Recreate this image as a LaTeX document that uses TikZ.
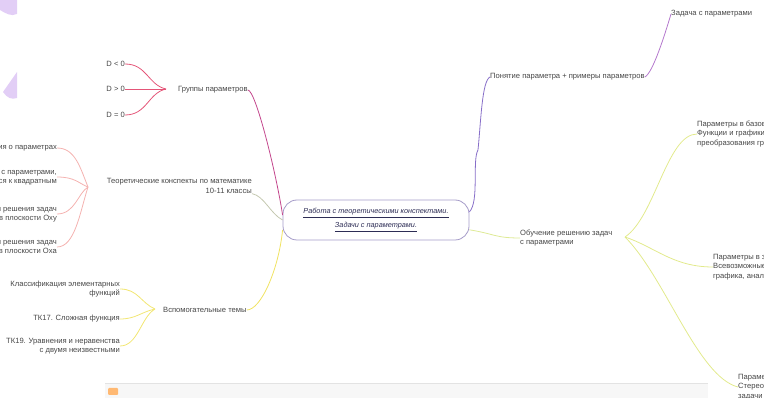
\documentclass[tikz,border=0pt]{standalone}
\usepackage{fontspec}
\setmainfont{Liberation Sans}

\definecolor{textcol}{RGB}{70,70,70}
\definecolor{centertext}{RGB}{45,45,85}
\definecolor{boxcol}{RGB}{165,155,200}
\definecolor{grpcol}{RGB}{195,70,140}
\definecolor{grpsub}{RGB}{228,85,120}
\definecolor{theocol}{RGB}{196,200,176}
\definecolor{theosub}{RGB}{244,178,176}
\definecolor{auxcol}{RGB}{240,226,95}
\definecolor{auxsub}{RGB}{242,230,115}
\definecolor{concol}{RGB}{135,110,200}
\definecolor{consub}{RGB}{180,120,205}
\definecolor{lrncol}{RGB}{222,234,150}
\definecolor{lrnsub}{RGB}{226,234,140}
\definecolor{blobcol}{RGB}{226,206,246}

\tikzset{
  topic/.style={inner sep=0pt, font=\fontsize{7.6}{9.6}\selectfont, text=textcol},
  centerbox/.style={draw=boxcol, line width=0.8pt, rounded corners=14pt,
    minimum width=186pt, minimum height=40pt, align=center,
    font=\itshape\fontsize{7.3}{14}\selectfont, text=centertext},
  branch/.style={line width=0.8pt},
}

\begin{document}
\begin{tikzpicture}[x=1pt,y=-1pt]
\useasboundingbox (0,0) rectangle (764,398);
\clip (0,0) rectangle (764,398);

% side panel remains
\fill[blobcol] (0,0) -- (17,0) -- (17,14) .. controls (11,17) and (5,13) .. (0,10) -- cycle;
\fill[blobcol] (3,92) -- (17,72) -- (17,98) .. controls (12,100) and (7,98) .. (3,92) -- cycle;

% bottom bar
\fill[gray!6] (105,383) rectangle (708,398);
\draw[gray!22] (105,383) -- (708,383);
\fill[orange!55, rounded corners=1pt] (108,388) rectangle (118,395);

% centre
\node[centerbox] (center) at (376,220)
  {\underline{Работа с теоретическими конспектами.}\\\underline{Задачи с параметрами.}};

% groups of parameters
\node[topic, anchor=west] (grp) at (178,90) {Группы параметров};
\coordinate (grpj) at (166,89);
\node[topic, anchor=east] (d1) at (125,64) {D < 0};
\node[topic, anchor=east] (d2) at (125,89) {D > 0};
\node[topic, anchor=east] (d3) at (125,115) {D = 0};
\draw[branch, grpsub] (d1.east) .. controls +(22,0) and +(-18,-4) .. (grpj);
\draw[branch, grpsub] (d2.east) -- (grpj);
\draw[branch, grpsub] (d3.east) .. controls +(22,0) and +(-18,4) .. (grpj);
\draw[branch, grpcol] (grp.east) .. controls +(8,0) and +(-6,-40) .. (center.177);

% theory notes
\node[topic, anchor=east, align=right] (theo) at (252,186)
  {Теоретические конспекты по математике\\10-11 классы};
\coordinate (theoj) at (88,187);
\node[topic, anchor=east, align=right] (t1) at (57,148) {Общие сведения о параметрах};
\node[topic, anchor=east, align=right] (t2) at (57,177) {Уравнения с параметрами,\\сводящиеся к квадратным};
\node[topic, anchor=east, align=right] (t3) at (57,214) {Графические приёмы решения задач\\с параметрами в плоскости Oxy};
\node[topic, anchor=east, align=right] (t4) at (57,247) {Графические приёмы решения задач\\с параметрами в плоскости Oxa};
\draw[branch, theosub] (t1.east) .. controls +(18,0) and +(-8,-20) .. (theoj);
\draw[branch, theosub] (t2.east) .. controls +(18,0) and +(-10,-4) .. (theoj);
\draw[branch, theosub] (t3.east) .. controls +(18,0) and +(-10,6) .. (theoj);
\draw[branch, theosub] (t4.east) .. controls +(18,0) and +(-8,25) .. (theoj);
\draw[branch, theocol] (theo.south east) .. controls +(12,2) and +(-12,-6) .. (center.west);

% auxiliary topics
\node[topic, anchor=west] (aux) at (163,310) {Вспомогательные темы};
\coordinate (auxj) at (155,309);
\node[topic, anchor=east, align=right] (a1) at (120,289) {Классификация элементарных\\функций};
\node[topic, anchor=east] (a2) at (120,319) {ТК17. Сложная функция};
\node[topic, anchor=east, align=right] (a3) at (120,346) {ТК19. Уравнения и неравенства\\с двумя неизвестными};
\draw[branch, auxsub] (a1.east) .. controls +(18,0) and +(-14,-6) .. (auxj);
\draw[branch, auxsub] (a2.east) .. controls +(16,0) and +(-14,3) .. (auxj);
\draw[branch, auxsub] (a3.east) .. controls +(18,0) and +(-14,8) .. (auxj);
\draw[branch, auxcol] (aux.east) .. controls +(14,0) and +(-4,40) .. (center.186);

% concept of parameter
\node[topic, anchor=west] (concept) at (490,77) {Понятие параметра + примеры параметров};
\node[topic, anchor=west] (task) at (671,14) {Задача с параметрами};
\draw[branch, concol] (center.5) .. controls +(10,-10) and +(-6,10) .. (478,150)
  .. controls +(3,-30) and +(-8,4) .. (concept.west);
\draw[branch, consub] (concept.east) .. controls +(8,-4) and +(-6,20) .. (task.west);

% learning to solve
\node[topic, anchor=west, align=left] (learn) at (520,238)
  {Обучение решению задач\\с параметрами};
\coordinate (learnj) at (625,237);
\node[topic, anchor=west, align=left] (p1) at (697,134)
  {Параметры в базовых задачах.\\Функции и графики.\\преобразования графиков};
\node[topic, anchor=west, align=left] (p2) at (713,267)
  {Параметры в задачах.\\Всевозможные положения\\графика, аналитика};
\node[topic, anchor=west, align=left] (p3) at (738,387)
  {Параметры.\\Стереометрия\\задачи};
\draw[branch, lrncol] (center.-6) .. controls +(25,4) and +(-25,0) .. (learn.west);
\draw[branch, lrnsub] (learnj) .. controls +(30,-20) and +(-30,0) .. (p1.west);
\draw[branch, lrnsub] (learnj) .. controls +(30,10) and +(-40,0) .. (p2.west);
\draw[branch, lrnsub] (learnj) .. controls +(40,40) and +(-40,-10) .. (p3.west);
\end{tikzpicture}
\end{document}
